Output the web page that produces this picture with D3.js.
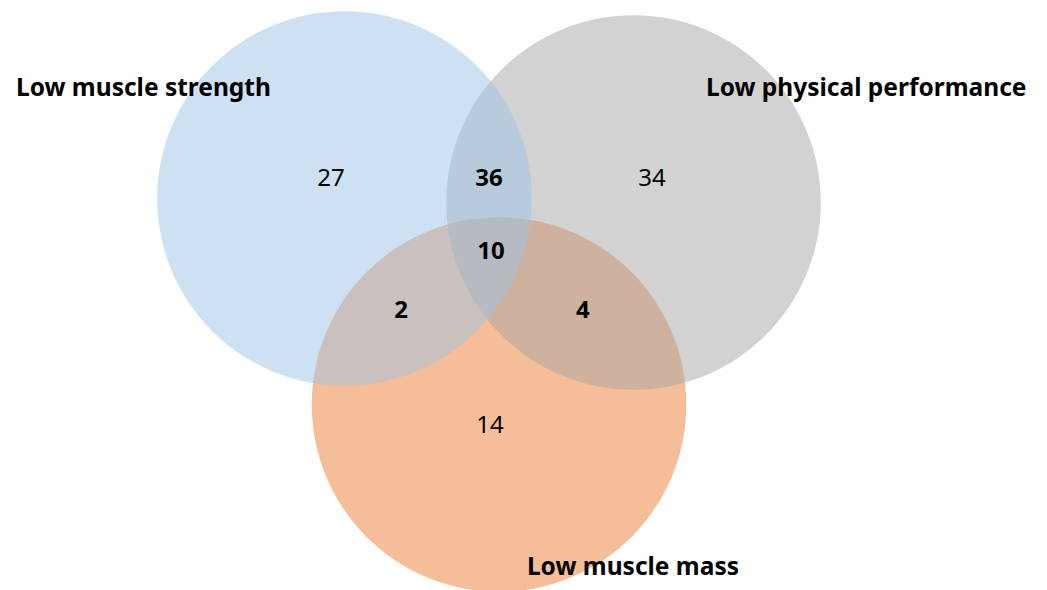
<!DOCTYPE html>
<html>
<head>
<meta charset="utf-8">
<script src="https://cdn.jsdelivr.net/npm/d3@7"></script>
<style>
  body { margin: 0; background: #fff; }
  svg { display: block; }
</style>
</head>
<body>
<div id="chart"></div>
<script>
// sets, drawn bottom to top (orange first, blue on top)
const sets = ["Low muscle mass", "Low physical performance", "Low muscle strength"];
const setColors = ["#ED7D31", "#A5A5A5", "#9DC3E6"];
// circle centres in radius units (blue circle = origin)
const setCx = [0.825, 1.543, 0];
const setCy = [1.100, 0.021, 0];
// set label anchors (left edge, middle)
const labelX = [0.974, 1.930, -1.754];
const labelY = [1.967, -0.595, -0.595];

// region counts
const regions = ["S only", "S∩P", "P only", "S∩P∩M", "S∩M", "P∩M", "M only"];
const counts = [27, 36, 34, 10, 2, 4, 14];
const bold = [false, true, false, true, true, true, false];
const countX = [-0.072, 0.771, 1.642, 0.782, 0.302, 1.273, 0.777];
const countY = [-0.109, -0.109, -0.109, 0.280, 0.595, 0.595, 1.209];

const width = 1047, height = 590;
const R = 187.3;

const x = d3.scaleLinear().domain([0, 1]).range([344.5, 344.5 + R]);
const y = d3.scaleLinear().domain([0, 1]).range([198.5, 198.5 + R]);

const svg = d3
  .select("#chart")
  .append("svg")
  .attr("width", width)
  .attr("height", height);

svg
  .append("g")
  .selectAll("circle")
  .data(sets)
  .join("circle")
  .attr("cx", (d, i) => x(setCx[i]))
  .attr("cy", (d, i) => y(setCy[i]))
  .attr("r", x(1) - x(0))
  .attr("fill", (d, i) => setColors[i])
  .attr("fill-opacity", 0.5);

const font = "'Noto Sans', 'Open Sans', sans-serif";

svg
  .append("g")
  .selectAll("text")
  .data(counts)
  .join("text")
  .attr("x", (d, i) => x(countX[i]))
  .attr("y", (d, i) => y(countY[i]))
  .attr("dy", "0.35em")
  .attr("text-anchor", "middle")
  .attr("font-family", font)
  .attr("font-size", "24px")
  .attr("font-weight", (d, i) => (bold[i] ? "bold" : "normal"))
  .attr("fill", "#000")
  .text((d) => d);

svg
  .append("g")
  .selectAll("text")
  .data(sets)
  .join("text")
  .attr("x", (d, i) => x(labelX[i]))
  .attr("y", (d, i) => y(labelY[i]))
  .attr("dy", "0.35em")
  .attr("font-family", font)
  .attr("font-size", "24.5px")
  .attr("font-weight", "bold")
  .attr("fill", "#000")
  .text((d) => d);
</script>
</body>
</html>
